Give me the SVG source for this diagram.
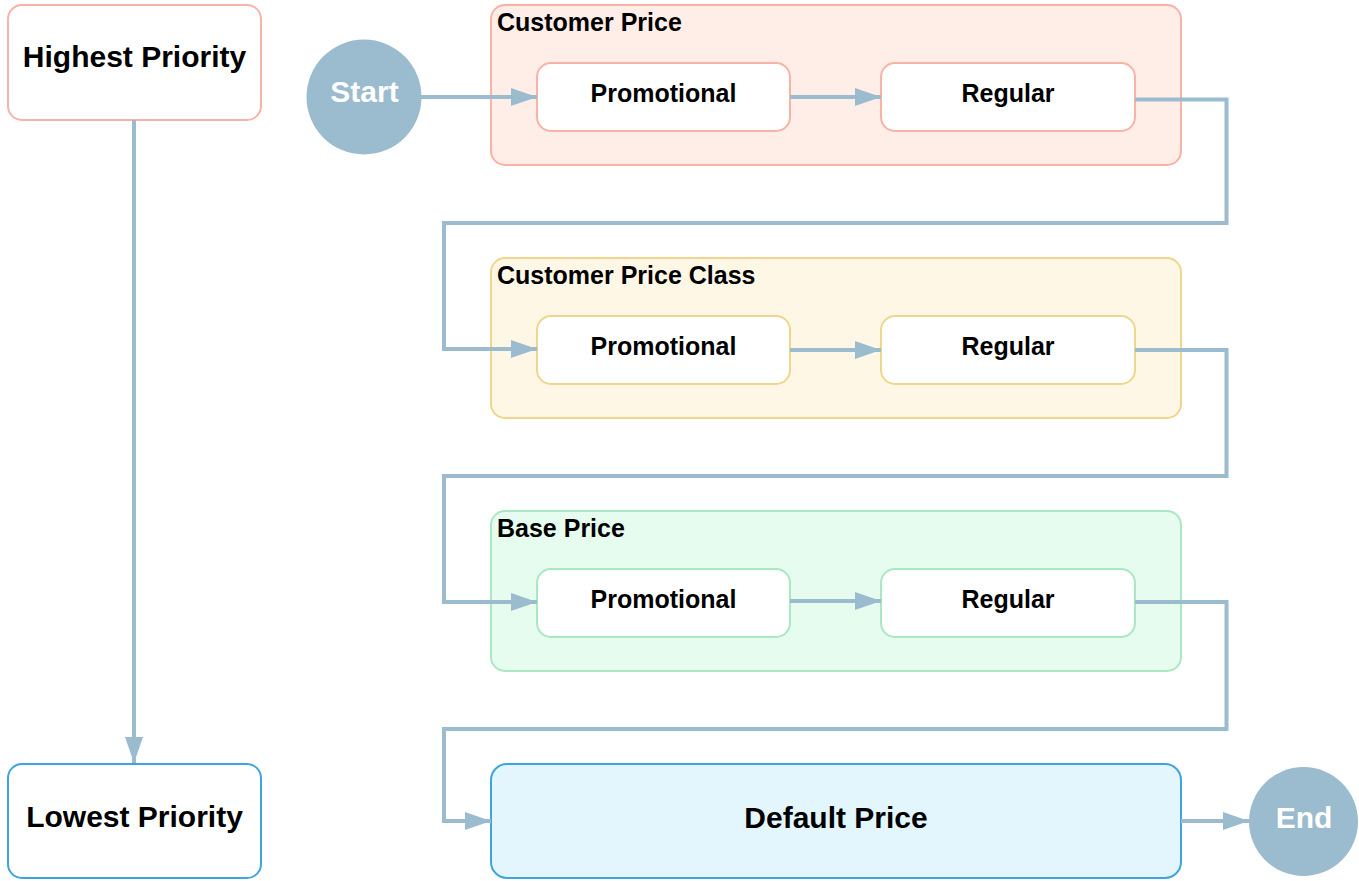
<svg xmlns="http://www.w3.org/2000/svg" width="1359" height="881" viewBox="0 0 1359 881">
<defs>
<style>
text{font-family:"Liberation Sans",Arial,sans-serif;font-weight:bold;fill:#000;}
.big{font-size:30px;text-anchor:middle;}
.mid{font-size:25px;text-anchor:middle;}
.title{font-size:25px;}
.circ{fill:#9bbbce;}
.white{fill:#fff;}
.red{fill:#ffede7;stroke:#f8b2a6;stroke-width:2;}
.yel{fill:#fff7e6;stroke:#f0d68c;stroke-width:2;}
.grn{fill:#e6fcee;stroke:#a9e8c3;stroke-width:2;}
.blu{fill:#e3f6fe;stroke:#3ea4de;stroke-width:2;}
.inred{fill:#fff;stroke:#f8b2a6;stroke-width:2;}
.inyel{fill:#fff;stroke:#f0d68c;stroke-width:2;}
.ingrn{fill:#fff;stroke:#a9e8c3;stroke-width:2;}
.inblu{fill:#fff;stroke:#3ea4de;stroke-width:2;}
.conn{fill:none;stroke:#9bbccf;stroke-width:4;marker-end:url(#ah);}
</style>
<marker id="ah" markerUnits="userSpaceOnUse" markerWidth="26" markerHeight="18" refX="26" refY="9" orient="auto">
<path d="M0,0 L26,9 L0,18 Z" fill="#9bbccf"/>
</marker>
</defs>

<g id="highest-priority">
<rect class="inred" x="8" y="5" width="253" height="115" rx="14"/>
<text class="big" x="134.5" y="67">Highest Priority</text>
</g>
<g id="lowest-priority">
<rect class="inblu" x="8" y="764" width="253" height="114" rx="14"/>
<text class="big" x="134.5" y="827">Lowest Priority</text>
</g>

<g id="start">
<circle class="circ" cx="364" cy="97" r="57.5"/>
<text class="big white" x="364.5" y="102">Start</text>
</g>

<g id="customer-price">
<rect class="red" x="491" y="5" width="690" height="160" rx="14"/>
<text class="title" x="497" y="31">Customer Price</text>
</g>
<g id="cp-promotional">
<rect class="inred" x="537" y="63" width="253" height="68" rx="14"/>
<text class="mid" x="663.5" y="102">Promotional</text>
</g>
<g id="cp-regular">
<rect class="inred" x="881" y="63" width="254" height="68" rx="14"/>
<text class="mid" x="1008" y="102">Regular</text>
</g>

<g id="customer-price-class">
<rect class="yel" x="491" y="258" width="690" height="160" rx="14"/>
<text class="title" x="497" y="284">Customer Price Class</text>
</g>
<g id="cpc-promotional">
<rect class="inyel" x="537" y="316" width="253" height="68" rx="14"/>
<text class="mid" x="663.5" y="355">Promotional</text>
</g>
<g id="cpc-regular">
<rect class="inyel" x="881" y="316" width="254" height="68" rx="14"/>
<text class="mid" x="1008" y="355">Regular</text>
</g>

<g id="base-price">
<rect class="grn" x="491" y="511" width="690" height="160" rx="14"/>
<text class="title" x="497" y="537">Base Price</text>
</g>
<g id="bp-promotional">
<rect class="ingrn" x="537" y="569" width="253" height="68" rx="14"/>
<text class="mid" x="663.5" y="608">Promotional</text>
</g>
<g id="bp-regular">
<rect class="ingrn" x="881" y="569" width="254" height="68" rx="14"/>
<text class="mid" x="1008" y="608">Regular</text>
</g>

<g id="default-price">
<rect class="blu" x="491" y="764" width="690" height="114" rx="16"/>
<text class="big" x="836" y="828">Default Price</text>
</g>

<g id="end">
<circle class="circ" cx="1303.5" cy="821.5" r="54.5"/>
<text class="big white" x="1304" y="828">End</text>
</g>

<g id="connectors">
<path class="conn" d="M134,120 V763"/>
<path class="conn" d="M421,97 H537"/>
<path class="conn" d="M790,97 H881"/>
<path class="conn" d="M1135,99.5 H1226.5 V223 H444 V349 H537"/>
<path class="conn" d="M790,350 H881"/>
<path class="conn" d="M1135,350 H1226.5 V476 H444 V602 H537"/>
<path class="conn" d="M790,601 H881"/>
<path class="conn" d="M1135,602 H1226.5 V729 H444 V821 H491"/>
<path class="conn" d="M1181,821 H1249"/>
</g>
</svg>
